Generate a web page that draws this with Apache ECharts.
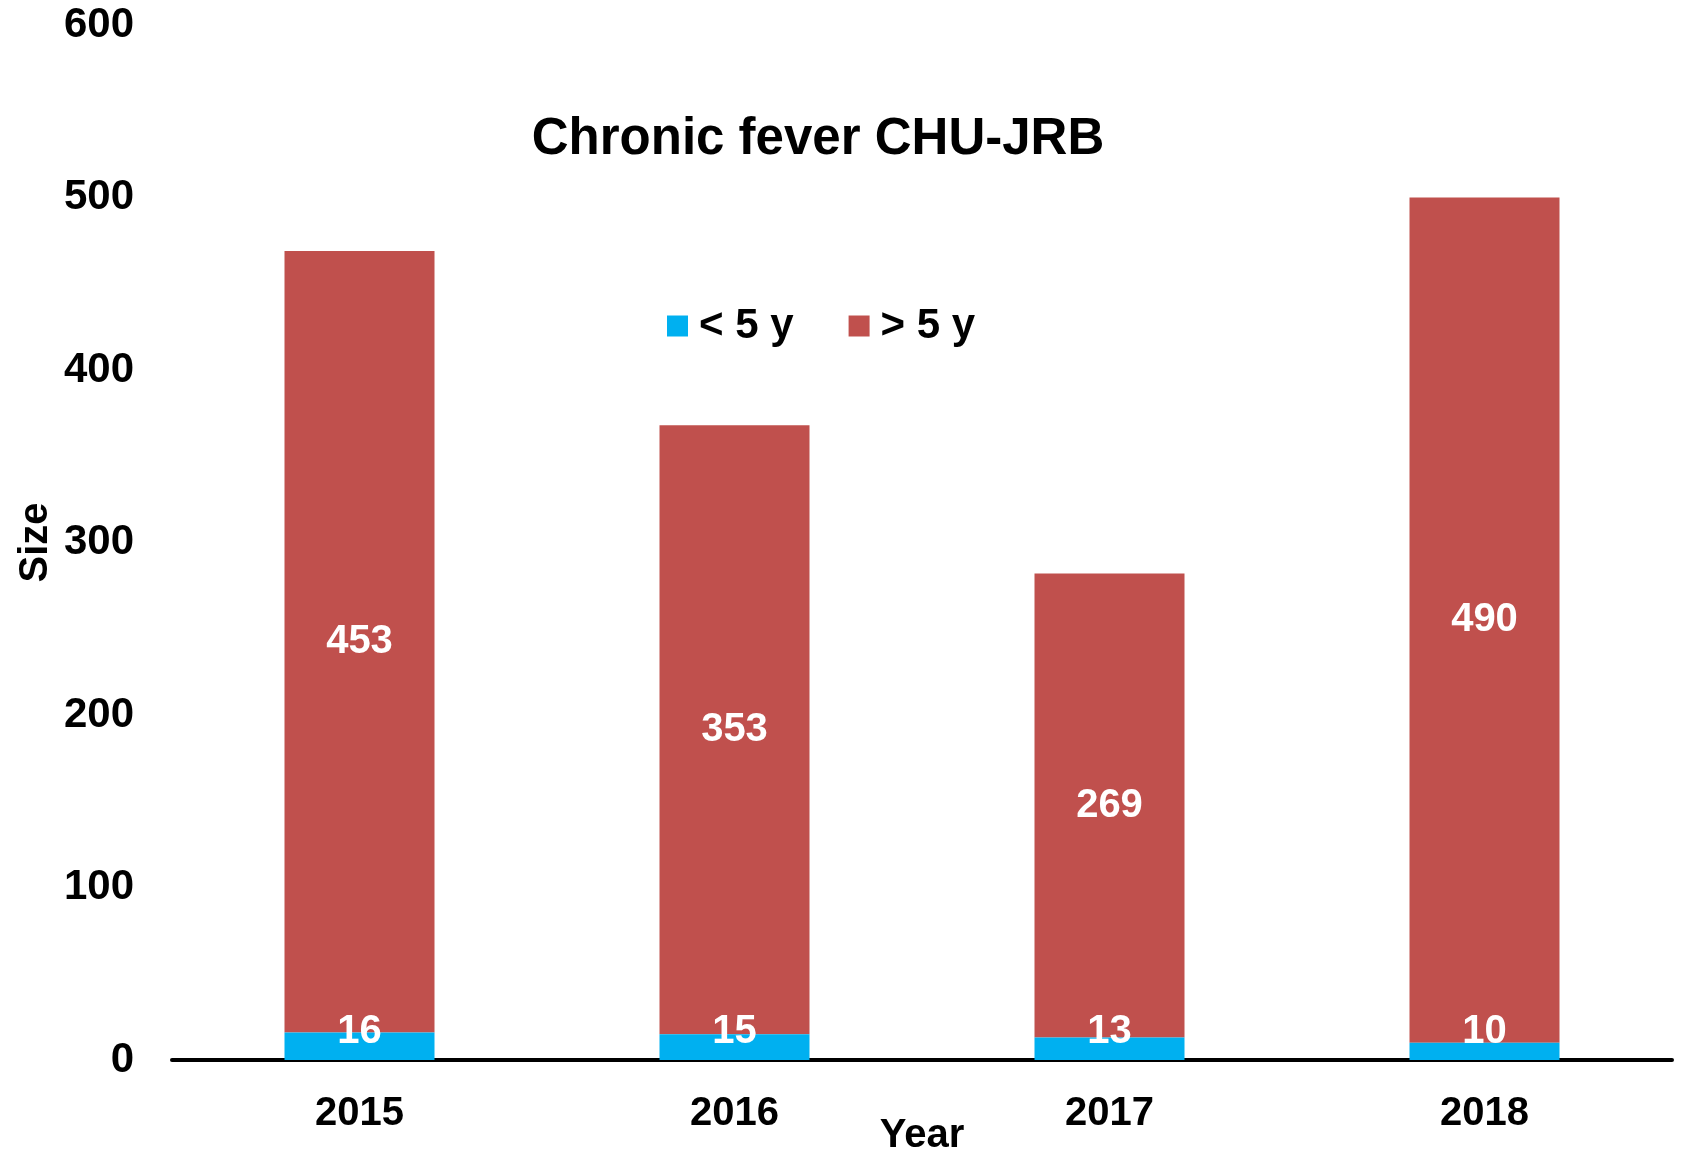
<!DOCTYPE html>
<html>
<head>
<meta charset="utf-8">
<script src="https://cdn.jsdelivr.net/npm/echarts@6/dist/echarts.min.js"></script>
<style>
  html, body { margin: 0; padding: 0; background: #fff; overflow: hidden; }
  #chart { width: 1683px; height: 1157px; }
</style>
</head>
<body>
<div id="chart"></div>
<script>
const years = ['2015', '2016', '2017', '2018']
const under5 = [16, 15, 13, 10]
const over5 = [453, 353, 269, 490]
const yTicks = [0, 100, 200, 300, 400, 500, 600]

const FONT = '"Liberation Sans", Arial, sans-serif'

const chart = echarts.init(document.getElementById('chart'))

chart.setOption({
  animation: false,
  textStyle: { fontFamily: FONT },
  title: {
    text: 'Chronic fever CHU-JRB',
    left: 813,
    top: 109,
    textAlign: 'center',
    textStyle: { fontFamily: FONT, fontSize: 51, fontWeight: 'bold', color: '#000' },
  },
  legend: {
    top: 300,
    left: 662,
    itemWidth: 21,
    itemHeight: 21,
    itemGap: 55,
    icon: 'rect',
    textStyle: { fontFamily: FONT, fontSize: 42, fontWeight: 'bold', color: '#000', padding: [0, 0, 0, 6] },
    data: ['< 5 y', '> 5 y'],
  },
  grid: {
    left: 172,
    right: 11,
    top: 25,
    bottom: 97,
    containLabel: false,
    outerBoundsMode: 'none',
  },
  xAxis: {
    type: 'category',
    data: years,
    name: 'Year',
    nameLocation: 'middle',
    nameGap: 56,
    nameMoveOverlap: false,
    nameTextStyle: { fontFamily: FONT, fontSize: 40, fontWeight: 'bold', color: '#000' },
    axisLine: { lineStyle: { color: '#000', width: 4 } },
    axisTick: { show: false },
    axisLabel: { fontFamily: FONT, fontSize: 40, fontWeight: 'bold', color: '#000', margin: 34 },
  },
  yAxis: {
    type: 'value',
    min: yTicks[0],
    max: yTicks[yTicks.length - 1],
    interval: 100,
    name: 'Size',
    nameLocation: 'middle',
    nameGap: 116,
    nameMoveOverlap: false,
    nameTextStyle: { fontFamily: FONT, fontSize: 40, fontWeight: 'bold', color: '#000' },
    axisLine: { show: false },
    axisTick: { show: false },
    splitLine: { show: false },
    axisLabel: { fontFamily: FONT, fontSize: 42, fontWeight: 'bold', color: '#000', margin: 38 },
  },
  series: [
    {
      name: '< 5 y',
      type: 'bar',
      stack: 'total',
      barWidth: '40%',
      data: under5,
      itemStyle: { color: '#00B0F0' },
      label: {
        show: true,
        position: 'insideBottom',
        distance: 8,
        color: '#fff',
        fontFamily: FONT,
        fontSize: 40,
        fontWeight: 'bold',
      },
      z: 3,
    },
    {
      name: '> 5 y',
      type: 'bar',
      stack: 'total',
      barWidth: '40%',
      data: over5,
      itemStyle: { color: '#C0504D' },
      label: {
        show: true,
        position: 'inside',
        color: '#fff',
        fontFamily: FONT,
        fontSize: 40,
        fontWeight: 'bold',
      },
      z: 2,
    },
  ],
})
</script>
</body>
</html>
